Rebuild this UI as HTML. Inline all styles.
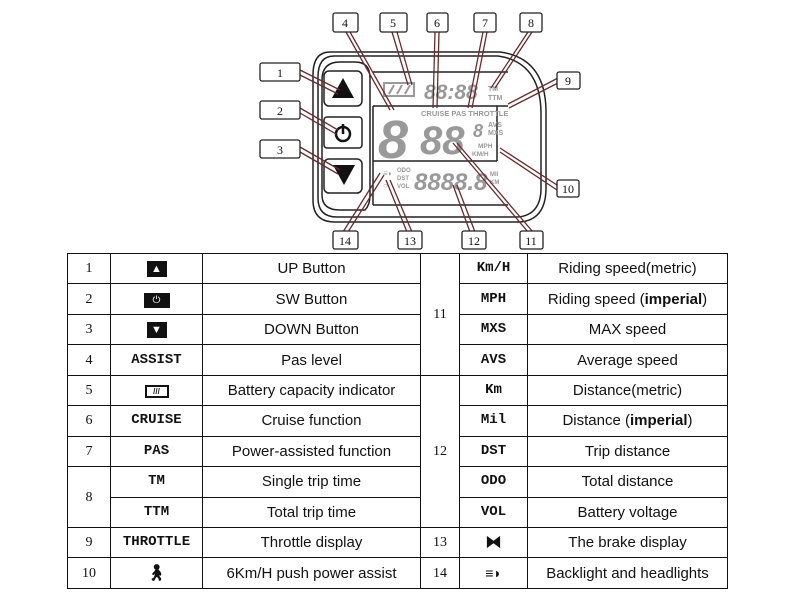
<!DOCTYPE html>
<html><head><meta charset="utf-8"><style>
body{margin:0;width:800px;height:600px;background:#fff;overflow:hidden;position:relative;font-family:"Liberation Sans",sans-serif}
svg{position:absolute;left:0;top:0}
table{position:absolute;left:67px;top:253px;border-collapse:collapse;table-layout:fixed}
td{border:1.5px solid #111;height:29.45px;padding:0;text-align:center;vertical-align:middle;font-size:15px;color:#111;line-height:15px}
.n{font-family:"Liberation Serif",serif;font-size:14px}
.m{font-family:"Liberation Mono",monospace;font-weight:bold;font-size:14px}
</style></head><body>
<svg width="800" height="250" viewBox="0 0 800 250">
<g fill="none" stroke="#222" stroke-width="1.5">
<path d="M330 52 Q313 52 313 75 L313 200 Q313 222 335 222 L520 222 Q545 220 546 190 L546 110 Q545 58 500 52 Z"/>
<path d="M334 56 Q318 56 318 77 L318 198 Q318 217 337 217 L518 217 Q540 215 541 190 L541 112 Q540 62 498 56 Z"/>
<path d="M340 62 Q322 62 322 80 L322 195 Q322 210 340 210 L365 210 Q370 205 370 195 L370 78 Q370 62 355 62 Z"/>
<rect x="324" y="71" width="38" height="35" rx="5"/>
<rect x="324" y="117" width="38" height="31" rx="3"/>
<rect x="324" y="159" width="38" height="34" rx="5"/>
<path d="M373 72 L508 72 M373 106 L508 106 M373 106 L373 205 M497 106 L497 161 M373 161 L497 161 M373 205 L508 205"/>
</g>
<polygon points="343,78 332,98 354,98" fill="#111"/>
<polygon points="333,165 355,165 344,185" fill="#111"/>
<circle cx="343" cy="134" r="7" fill="none" stroke="#111" stroke-width="2.5"/>
<line x1="343" y1="124" x2="343" y2="134" stroke="#111" stroke-width="2.5"/>
<g fill="#999" font-family="Liberation Sans,sans-serif" font-weight="bold">
<rect x="384" y="83" width="30" height="13" fill="none" stroke="#999" stroke-width="2"/>
<path d="M389 94 L394 85 M397 94 L402 85 M405 94 L410 85" stroke="#999" stroke-width="2"/>
<text x="424" y="99" font-size="21" font-style="italic">88:88</text>
<text x="488" y="91" font-size="7">TM</text><text x="488" y="100" font-size="7">TTM</text>
<text x="421" y="116" font-size="7.5">CRUISE PAS THROTTLE</text>
<text x="378" y="158" font-size="54" font-style="italic">8</text>
<text x="420" y="154" font-size="40" font-style="italic">88</text>
<text x="473" y="137" font-size="18" font-style="italic">8</text>
<text x="488" y="127" font-size="7">AVS</text><text x="488" y="135" font-size="7">MXS</text>
<text x="478" y="148" font-size="6.5">MPH</text><text x="472" y="156" font-size="6.5">KM/H</text>
<text x="383" y="176" font-size="8">≡◗</text>
<text x="397" y="172" font-size="6">ODO</text><text x="397" y="180" font-size="6">DST</text><text x="397" y="188" font-size="6">VOL</text>
<text x="383" y="188" font-size="8">○</text>
<text x="414" y="190" font-size="24" font-style="italic">8888.8</text>
<text x="490" y="176" font-size="6">MIl</text><text x="490" y="184" font-size="6">KM</text>
</g>
<g stroke="#6b2a2a" stroke-width="1.3" fill="none">
<path d="M300 70 L340 90 M300 75 L338 94"/>
<path d="M300 108 L338 130 M300 113 L336 134"/>
<path d="M300 147 L340 170 M300 152 L338 174"/>
<path d="M346 32 L390 110 M350 32 L394 110"/>
<path d="M392 32 L408 85 M397 32 L412 85"/>
<path d="M435 32 L433 108 M439 32 L437 108"/>
<path d="M483 32 L468 108 M487 32 L472 108"/>
<path d="M528 32 L491 88 M532 32 L495 88"/>
<path d="M558 78 L508 104 M558 83 L509 108"/>
<path d="M557 185 L500 148 M557 190 L500 152"/>
<path d="M528 232 L453 143 M533 232 L457 143"/>
<path d="M470 232 L453 185 M475 232 L457 185"/>
<path d="M407 232 L386 180 M412 232 L390 180"/>
<path d="M343 232 L380 173 M348 232 L384 175"/>
</g>
<g font-family="Liberation Serif,serif" font-size="12" text-anchor="middle" fill="#111">
<g fill="#fff" stroke="#222" stroke-width="1.3">
<rect x="260" y="63" width="40" height="18" rx="2"/><rect x="260" y="101" width="40" height="18" rx="2"/><rect x="260" y="140" width="40" height="18" rx="2"/>
<rect x="333" y="13" width="25" height="19" rx="2"/><rect x="380" y="13" width="27" height="19" rx="2"/><rect x="427" y="13" width="21" height="19" rx="2"/>
<rect x="474" y="13" width="22" height="19" rx="2"/><rect x="520" y="13" width="22" height="19" rx="2"/>
<rect x="557" y="72" width="23" height="17" rx="2"/><rect x="557" y="180" width="22" height="17" rx="2"/>
<rect x="333" y="231" width="25" height="18" rx="2"/><rect x="398" y="231" width="24" height="18" rx="2"/>
<rect x="462" y="231" width="24" height="18" rx="2"/><rect x="520" y="231" width="23" height="18" rx="2"/>
</g>
<text x="280" y="77">1</text><text x="280" y="115">2</text><text x="280" y="154">3</text>
<text x="345" y="27">4</text><text x="393" y="27">5</text><text x="437" y="27">6</text><text x="485" y="27">7</text><text x="531" y="27">8</text>
<text x="568" y="85">9</text><text x="568" y="193">10</text>
<text x="345" y="245">14</text><text x="410" y="245">13</text><text x="474" y="245">12</text><text x="531" y="245">11</text>
</g>
</svg>
<table>
<colgroup><col style="width:43px"><col style="width:92px"><col style="width:218px"><col style="width:39px"><col style="width:68px"><col style="width:200px"></colgroup>
<tr><td class="n">1</td><td><span style="display:inline-block;width:20px;height:16px;background:#111;color:#fff;font-size:11px;line-height:16px">▲</span></td><td>UP Button</td><td class="n" rowspan="4">11</td><td class="m">Km/H</td><td>Riding speed(metric)</td></tr>
<tr><td class="n">2</td><td><span style="display:inline-block;width:26px;height:15px;background:#111;color:#fff;font-size:10px;line-height:15px">⏻</span></td><td>SW Button</td><td class="m">MPH</td><td>Riding speed (<b>imperial</b>)</td></tr>
<tr><td class="n">3</td><td><span style="display:inline-block;width:20px;height:16px;background:#111;color:#fff;font-size:11px;line-height:16px">▼</span></td><td>DOWN Button</td><td class="m">MXS</td><td>MAX speed</td></tr>
<tr><td class="n">4</td><td class="m">ASSIST</td><td>Pas level</td><td class="m">AVS</td><td>Average speed</td></tr>
<tr><td class="n">5</td><td><span style="display:inline-block;width:20px;height:9px;border:2px solid #111;font-size:8px;line-height:9px;font-weight:bold">///</span></td><td>Battery capacity indicator</td><td class="n" rowspan="5">12</td><td class="m">Km</td><td>Distance(metric)</td></tr>
<tr><td class="n">6</td><td class="m">CRUISE</td><td>Cruise function</td><td class="m">Mil</td><td>Distance (<b>imperial</b>)</td></tr>
<tr><td class="n">7</td><td class="m">PAS</td><td>Power-assisted function</td><td class="m">DST</td><td>Trip distance</td></tr>
<tr><td class="n" rowspan="2">8</td><td class="m">TM</td><td>Single trip time</td><td class="m">ODO</td><td>Total distance</td></tr>
<tr><td class="m">TTM</td><td>Total trip time</td><td class="m">VOL</td><td>Battery voltage</td></tr>
<tr><td class="n">9</td><td class="m">THROTTLE</td><td>Throttle display</td><td class="n">13</td><td style="font-weight:bold;font-size:16px">⧓</td><td>The brake display</td></tr>
<tr><td class="n">10</td><td style="font-weight:bold;font-size:16px">🚶︎</td><td>6Km/H push power assist</td><td class="n">14</td><td style="font-weight:bold;font-size:14px">≡◗</td><td>Backlight and headlights</td></tr>
</table>
</body></html>
